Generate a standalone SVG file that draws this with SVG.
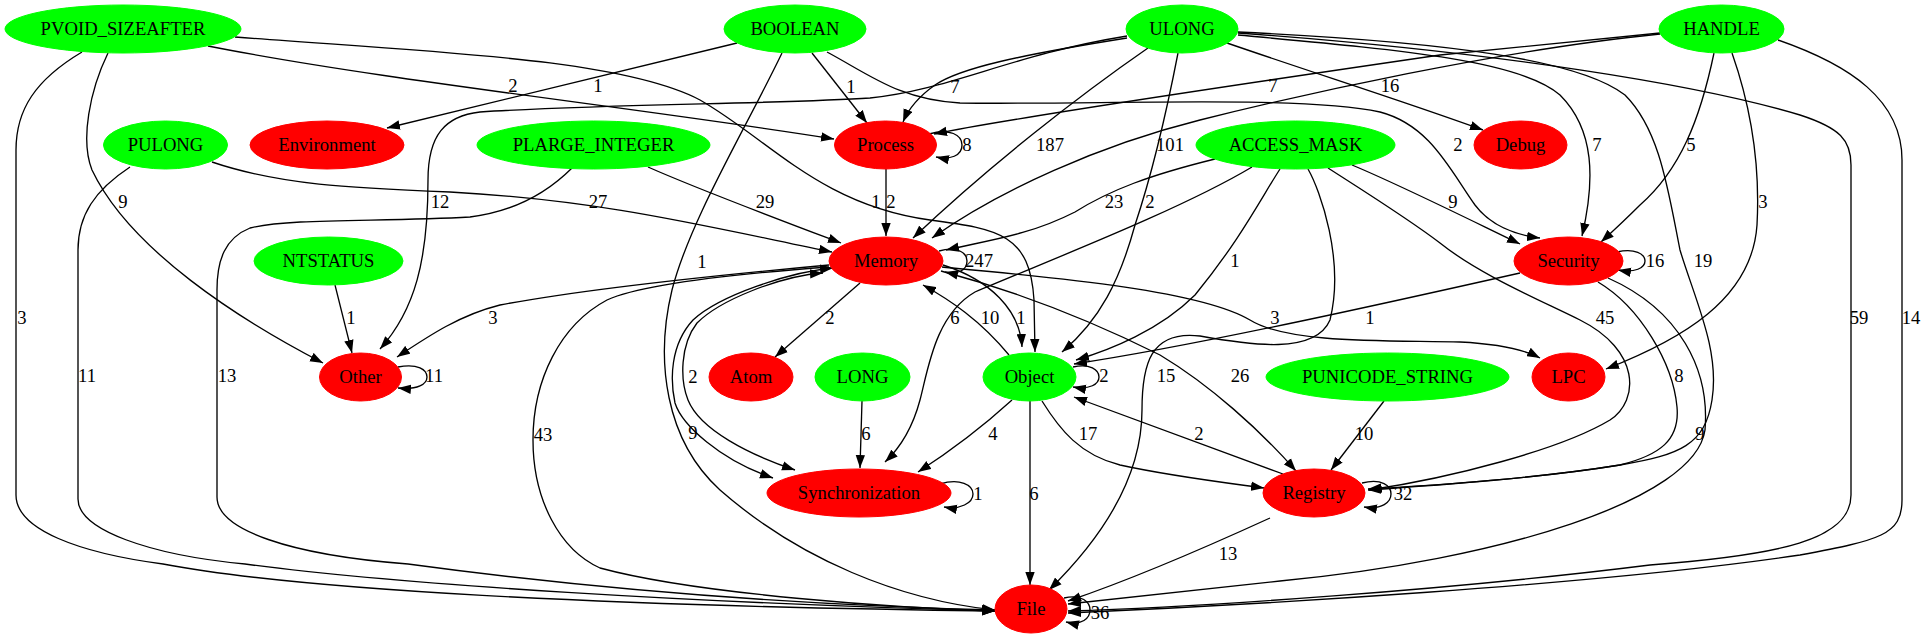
<svg xmlns="http://www.w3.org/2000/svg" width="1926" height="639" viewBox="0 0 1926 639">
<style>
.n text{font-family:"Liberation Serif","Times New Roman",serif;font-size:18.67px;text-anchor:middle}
.g ellipse{fill:#00ff00;stroke:#00ff00}
.r ellipse{fill:#ff0000;stroke:#ff0000}
#edges path{fill:none;stroke:#000;stroke-width:1.33;marker-end:url(#a)}
#edges path.both{marker-start:url(#s)}
#labels text{font-family:"Liberation Serif","Times New Roman",serif;font-size:18.67px;text-anchor:middle}
</style>
<defs>
<marker id="a" markerWidth="14" markerHeight="10" refX="13" refY="5" orient="auto" markerUnits="userSpaceOnUse"><path d="M0,0.3 L13,5 L0,9.7 z" fill="#000"/></marker>
<marker id="s" markerWidth="14" markerHeight="10" refX="13" refY="5" orient="auto-start-reverse" markerUnits="userSpaceOnUse"><path d="M0,0.3 L13,5 L0,9.7 z" fill="#000"/></marker>
</defs>
<rect width="1926" height="639" fill="#fff"/>
<g id="edges">
<path d="M208,46 C380,80 640,108 834,139"/>
<path d="M235,37 C430,52 620,58 700,100 C770,140 820,205 930,220 C1000,229 1030,235 1034,300 L1035,352"/>
<path d="M108,53 C90,90 80,140 92,170 C130,250 240,320 323,363"/>
<path d="M82,52 C35,80 16,110 16,150 L16,495 C16,530 80,553 163,564 C300,590 600,606 995,611"/>
<path d="M737,43 L387,128"/>
<path d="M812,53 L867,123"/>
<path d="M827,52 C870,75 900,100 960,103 C1100,105 1300,95 1380,112 C1430,125 1450,170 1475,205 C1490,225 1515,235 1540,238"/>
<path d="M782,53 C745,130 690,220 672,290 C655,360 665,440 720,490 C800,560 900,600 995,610"/>
<path d="M1127,38 C1020,55 960,68 935,85 C918,97 908,110 903,122"/>
<path d="M1127,36 C1010,55 950,90 870,98 C780,104 600,104 480,112 C445,116 428,135 428,180 C428,260 415,310 380,349"/>
<path d="M1148,48 C1080,95 990,165 913,238"/>
<path d="M1178,53 C1165,120 1150,180 1135,225 C1120,280 1100,320 1062,352"/>
<path d="M1227,43 C1320,75 1400,100 1483,130"/>
<path d="M1238,35 C1400,50 1520,60 1560,95 C1595,130 1595,180 1582,236"/>
<path d="M1238,32 C1450,42 1580,60 1625,95 C1660,130 1668,190 1680,250 C1695,300 1720,350 1712,400 C1705,445 1680,455 1620,465 C1540,478 1440,485 1368,490"/>
<path d="M1238,33 C1500,52 1700,85 1800,115 C1840,128 1851,140 1851,165 L1851,495 C1851,540 1780,555 1650,565 C1450,590 1200,607 1068,611"/>
<path d="M1660,33 L1440,55 C1200,90 1000,120 934,134"/>
<path d="M1660,34 C1500,50 1300,95 1200,120 C1100,145 1000,190 932,238"/>
<path d="M1714,53 C1700,120 1680,170 1640,205 C1625,220 1612,232 1601,242"/>
<path d="M1732,53 C1752,110 1760,170 1757,225 C1752,300 1680,340 1606,369"/>
<path d="M1778,40 C1850,65 1902,100 1902,160 L1902,500 C1902,535 1880,540 1800,555 C1600,585 1250,605 1068,613"/>
<path d="M212,162 C280,185 350,188 450,192 C600,200 700,225 832,252"/>
<path d="M130,167 C95,190 78,215 78,250 L78,499 C78,530 150,555 245,564 C400,585 700,603 995,611"/>
<path d="M648,167 C700,190 780,220 841,243"/>
<path d="M572,168 C545,195 510,212 470,217 C380,222 290,218 250,228 C225,238 217,260 217,290 L217,497 C217,530 290,555 408,564 C600,590 800,605 995,610"/>
<path d="M929,134 C950,128 962,135 962,145 C962,156 950,160 936,157"/>
<path d="M886,169 L886,236"/>
<path d="M1215,159 C1150,175 1110,190 1075,212 C1030,235 990,240 946,250"/>
<path d="M1352,165 C1400,185 1460,215 1520,244"/>
<path d="M1280,169 C1260,200 1240,240 1195,295 C1160,330 1110,350 1076,360"/>
<path d="M1252,167 C1180,210 1050,260 975,292 C935,315 928,370 920,400 C912,430 900,448 885,462"/>
<path d="M1308,169 C1320,190 1345,260 1330,320 C1315,355 1250,345 1200,336 C1150,330 1142,365 1142,410 C1142,480 1100,540 1049,590"/>
<path d="M1328,168 C1370,195 1410,220 1440,243 C1480,275 1540,300 1580,320 C1640,350 1640,400 1610,420 C1560,450 1450,478 1369,490"/>
<path d="M335,285 L352,353"/>
<path d="M939,251 C956,246 967,252 967,261 C967,270 958,275 945,272"/>
<path d="M829,265 C720,275 580,290 500,305 C460,315 430,335 397,357"/>
<path d="M860,283 L775,357"/>
<path d="M943,265 C990,280 1020,310 1022,347"/>
<path d="M1009,355 C980,320 950,300 923,285"/>
<path d="M942,267 C1050,277 1200,290 1250,320 C1290,345 1400,340 1460,342 C1500,344 1525,350 1540,358"/>
<path d="M941,271 C1030,295 1110,330 1160,355 C1210,385 1260,430 1296,471"/>
<path d="M829,267 C720,275 640,285 607,300 C560,325 533,380 533,440 C533,500 560,550 600,568 C700,595 900,608 995,611"/>
<path class="both" d="M823,273 C780,276 720,300 697,323 C680,345 680,380 688,400 C700,430 750,455 795,470"/>
<path class="both" d="M833,268 C790,272 720,295 693,320 C670,345 670,380 675,403 C682,425 720,460 773,478"/>
<path d="M1617,252 C1635,248 1645,254 1645,261 C1645,268 1635,273 1618,270"/>
<path d="M1520,273 C1400,300 1200,345 1074,364"/>
<path d="M1598,282 C1640,307 1673,363 1677,407 C1680,440 1660,455 1620,465 C1540,478 1440,485 1368,489"/>
<path d="M1608,278 C1680,310 1710,370 1705,430 C1695,500 1500,560 1280,581 C1180,592 1100,600 1068,604"/>
<path d="M398,367 C418,363 427,370 427,377 C427,384 418,390 398,388"/>
<path d="M862,401 L860,468"/>
<path d="M1073,367 C1090,363 1099,370 1099,377 C1099,384 1090,390 1073,387"/>
<path d="M1012,400 C990,420 960,445 918,472"/>
<path d="M1042,401 C1060,430 1080,455 1120,465 C1170,476 1220,482 1264,488"/>
<path d="M1030,401 L1030,585"/>
<path d="M1384,401 L1331,470"/>
<path d="M1283,474 L1074,397"/>
<path d="M940,484 C960,478 973,485 973,494 C973,503 960,510 944,507"/>
<path d="M1362,483 C1382,478 1391,486 1391,494 C1391,502 1382,510 1364,507"/>
<path d="M1270,518 C1200,550 1130,580 1068,601"/>
<path d="M1064,598 C1082,594 1090,602 1090,610 C1090,618 1082,626 1066,622"/>
</g>
<g id="labels">
<text x="513" y="92">2</text><text x="598" y="92">1</text><text x="851" y="93">1</text><text x="955" y="93">7</text>
<text x="1273" y="92">7</text><text x="1390" y="92">16</text><text x="967" y="151">8</text><text x="1050" y="151">187</text>
<text x="1170" y="151">101</text><text x="1458" y="151">2</text><text x="1597" y="151">7</text><text x="1691" y="151">5</text>
<text x="123" y="208">9</text><text x="440" y="208">12</text><text x="598" y="208">27</text><text x="765" y="208">29</text>
<text x="876" y="208">1</text><text x="891" y="208">2</text><text x="1114" y="208">23</text><text x="1150" y="208">2</text>
<text x="1453" y="208">9</text><text x="1763" y="208">3</text><text x="702" y="268">1</text><text x="979" y="267">247</text>
<text x="1235" y="267">1</text><text x="1655" y="267">16</text><text x="1703" y="267">19</text>
<text x="22" y="324">3</text><text x="351" y="324">1</text><text x="493" y="324">3</text><text x="830" y="324">2</text>
<text x="955" y="324">6</text><text x="990" y="324">10</text><text x="1021" y="324">1</text><text x="1275" y="324">3</text>
<text x="1370" y="324">1</text><text x="1605" y="324">45</text><text x="1859" y="324">59</text><text x="1911" y="324">14</text>
<text x="87" y="382">11</text><text x="227" y="382">13</text><text x="434" y="382">11</text><text x="693" y="383">2</text>
<text x="1104" y="382">2</text><text x="1166" y="382">15</text><text x="1240" y="382">26</text><text x="1679" y="382">8</text>
<text x="543" y="441">43</text><text x="693" y="439">9</text><text x="866" y="440">6</text><text x="993" y="440">4</text>
<text x="1088" y="440">17</text><text x="1199" y="440">2</text><text x="1364" y="440">10</text><text x="1700" y="440">9</text>
<text x="978" y="500">1</text><text x="1034" y="500">6</text><text x="1403" y="500">32</text><text x="1228" y="560">13</text>
<text x="1100" y="619">36</text>
</g>
<g id="PVOID_SIZEAFTER" class="n g"><ellipse cx="123" cy="29" rx="118" ry="24"/><text x="123" y="35">PVOID_SIZEAFTER</text></g>
<g id="BOOLEAN" class="n g"><ellipse cx="795" cy="29" rx="71" ry="24"/><text x="795" y="35">BOOLEAN</text></g>
<g id="ULONG" class="n g"><ellipse cx="1182" cy="29" rx="56" ry="24"/><text x="1182" y="35">ULONG</text></g>
<g id="HANDLE" class="n g"><ellipse cx="1721.5" cy="29" rx="62.5" ry="24"/><text x="1721.5" y="35">HANDLE</text></g>
<g id="PULONG" class="n g"><ellipse cx="165.5" cy="145" rx="62" ry="24"/><text x="165.5" y="151">PULONG</text></g>
<g id="Environment" class="n r"><ellipse cx="327" cy="145" rx="77" ry="24"/><text x="327" y="151">Environment</text></g>
<g id="PLARGE_INTEGER" class="n g"><ellipse cx="593.5" cy="145" rx="116.5" ry="24"/><text x="593.5" y="151">PLARGE_INTEGER</text></g>
<g id="Process" class="n r"><ellipse cx="885.5" cy="145" rx="51" ry="24"/><text x="885.5" y="151">Process</text></g>
<g id="ACCESS_MASK" class="n g"><ellipse cx="1295.5" cy="145" rx="99.5" ry="24"/><text x="1295.5" y="151">ACCESS_MASK</text></g>
<g id="Debug" class="n r"><ellipse cx="1520.5" cy="145" rx="46.5" ry="24"/><text x="1520.5" y="151">Debug</text></g>
<g id="NTSTATUS" class="n g"><ellipse cx="328.5" cy="261" rx="74.5" ry="24"/><text x="328.5" y="267">NTSTATUS</text></g>
<g id="Memory" class="n r"><ellipse cx="886" cy="261" rx="57" ry="24"/><text x="886" y="267">Memory</text></g>
<g id="Security" class="n r"><ellipse cx="1568.5" cy="261" rx="54.5" ry="24"/><text x="1568.5" y="267">Security</text></g>
<g id="Other" class="n r"><ellipse cx="360.5" cy="377" rx="41" ry="24"/><text x="360.5" y="383">Other</text></g>
<g id="Atom" class="n r"><ellipse cx="751" cy="377" rx="42" ry="24"/><text x="751" y="383">Atom</text></g>
<g id="LONG" class="n g"><ellipse cx="862.5" cy="377" rx="47.5" ry="24"/><text x="862.5" y="383">LONG</text></g>
<g id="Object" class="n g"><ellipse cx="1029.5" cy="377" rx="46.5" ry="24"/><text x="1029.5" y="383">Object</text></g>
<g id="PUNICODE_STRING" class="n g"><ellipse cx="1387.5" cy="377" rx="121.5" ry="24"/><text x="1387.5" y="383">PUNICODE_STRING</text></g>
<g id="LPC" class="n r"><ellipse cx="1568.5" cy="377" rx="36.5" ry="24"/><text x="1568.5" y="383">LPC</text></g>
<g id="Synchronization" class="n r"><ellipse cx="859" cy="493" rx="92" ry="24"/><text x="859" y="499">Synchronization</text></g>
<g id="Registry" class="n r"><ellipse cx="1314" cy="493" rx="51" ry="24"/><text x="1314" y="499">Registry</text></g>
<g id="File" class="n r"><ellipse cx="1031" cy="609" rx="36" ry="24"/><text x="1031" y="615">File</text></g>
</svg>
